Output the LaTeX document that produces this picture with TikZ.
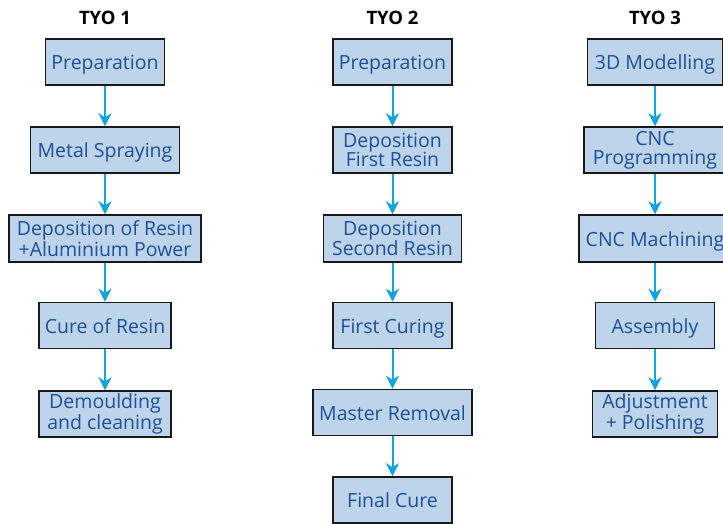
\documentclass[tikz,border=0pt]{standalone}
\usepackage{fontspec}
\setmainfont{Open Sans}
\usetikzlibrary{arrows.meta}
\definecolor{boxfill}{HTML}{BDD4EA}
\definecolor{boxtext}{HTML}{1D4F9C}
\definecolor{arrowc}{HTML}{12A3E3}
\begin{document}
\begin{tikzpicture}[x=1pt,y=-1pt,
  stepbox/.style={draw=black!90, line width=1.5pt, fill=boxfill, text=boxtext,
    font=\fontsize{19.5}{19}\selectfont, align=center, inner sep=0pt, minimum height=46pt},
  oneline/.style={text height=17pt, text depth=2pt},
  title/.style={font=\fontsize{18.5}{20}\selectfont\bfseries, text=black},
  flow/.style={draw=arrowc, line width=2pt, -{Stealth[length=13pt,width=13pt,inset=4pt]}}]
\useasboundingbox (0,0) rectangle (723,523);
\clip (0,0) rectangle (723,523);
% titles
\node[title] (t1) at (105,18) {TYO 1};
\node[title] (t2) at (392.5,18) {TYO 2};
\node[title] (t3) at (655,18) {TYO 3};
% column 1
\node[stepbox, oneline, minimum width=119pt] (p1) at (105,62) {Preparation};
\node[stepbox, oneline, minimum width=149pt] (m1) at (105,150) {Metal Spraying};
\node[stepbox, minimum width=192pt, minimum height=47pt] (d1) at (105,238.5) {Deposition of Resin\\+Aluminium Power};
\node[stepbox, oneline, minimum width=132pt] (c1) at (105,325.5) {Cure of Resin};
\node[stepbox, minimum width=132pt] (dm1) at (105,414) {Demoulding\\and cleaning};
% column 2
\node[stepbox, oneline, minimum width=119pt] (p2) at (392.5,62) {Preparation};
\node[stepbox, minimum width=119pt] (f2) at (392.5,150) {Deposition\\First Resin};
\node[stepbox, minimum width=138pt, minimum height=47pt] (s2) at (392.5,238.5) {Deposition\\Second Resin};
\node[stepbox, oneline, minimum width=119pt] (fc2) at (392.5,325.5) {First Curing};
\node[stepbox, oneline, minimum width=159pt] (mr2) at (392.5,412.5) {Master Removal};
\node[stepbox, oneline, minimum width=119pt] (fin2) at (392.5,500) {Final Cure};
% column 3
\node[stepbox, oneline, minimum width=135pt] (md3) at (655,62) {3D Modelling};
\node[stepbox, minimum width=142pt] (cp3) at (655,150) {CNC\\Programming};
\node[stepbox, oneline, minimum width=152pt, minimum height=47pt] (cm3) at (655,238.5) {CNC Machining};
\node[stepbox, oneline, minimum width=119pt] (as3) at (655,325.5) {Assembly};
\node[stepbox, minimum width=125pt] (adj3) at (655,414) {Adjustment\\+ Polishing};
% arrows
\draw[flow] (p1.south) -- (m1.north);
\draw[flow] (m1.south) -- (d1.north);
\draw[flow] (d1.south) -- (c1.north);
\draw[flow] (c1.south) -- (dm1.north);
\draw[flow] (p2.south) -- (f2.north);
\draw[flow] (f2.south) -- (s2.north);
\draw[flow] (s2.south) -- (fc2.north);
\draw[flow] (fc2.south) -- (mr2.north);
\draw[flow] (mr2.south) -- (fin2.north);
\draw[flow] (md3.south) -- (cp3.north);
\draw[flow] (cp3.south) -- (cm3.north);
\draw[flow] (cm3.south) -- (as3.north);
\draw[flow] (as3.south) -- (adj3.north);
\end{tikzpicture}
\end{document}
